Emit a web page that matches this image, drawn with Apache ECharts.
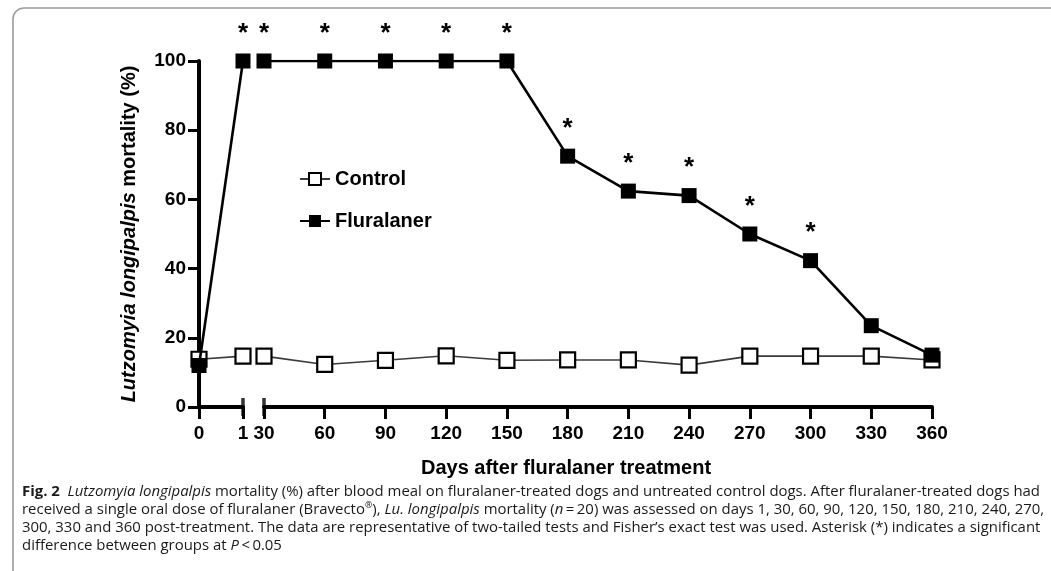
<!DOCTYPE html>
<html>
<head>
<meta charset="utf-8">
<script src="https://cdn.jsdelivr.net/npm/echarts@6/dist/echarts.min.js"></script>
<style>
  html, body { margin: 0; padding: 0; background: #fff; }
  #chart { width: 1051px; height: 571px; }
</style>
</head>
<body>
<div id="chart"></div>
<script>
// Sand fly mortality (%) after feeding on treated and control dogs
const days = [0, 1, 30, 60, 90, 120, 150, 180, 210, 240, 270, 300, 330, 360];
const controlMortality = [13.8, 14.7, 14.7, 12.3, 13.5, 14.8, 13.5, 13.6, 13.6, 12.1, 14.7, 14.7, 14.7, 13.6];
const fluralanerMortality = [12, 100, 100, 100, 100, 100, 100, 72.5, 62.4, 61.1, 50, 42.3, 23.5, 15];
// asterisk = significant difference between groups (P < 0.05)
const significant = [false, true, true, true, true, true, true, true, true, true, true, true, false, false];

// the day axis is broken between day 1 and day 30
const earlyRange = [0, 1];
const lateRange = [30, 360];
const earlyStep = 1;
const lateStep = 30;
const yRange = [0, 100];
const yStep = 20;

const seriesNames = ['Control', 'Fluralaner'];
const yTitle = 'Lutzomyia longipalpis';
const yTitleRest = ' mortality (%)';
const xTitle = 'Days after fluralaner treatment';

const captionLines = [
  [['b', 'Fig. 2'], ['', '  '], ['i', 'Lutzomyia longipalpis'], ['', ' mortality (%) after blood meal on fluralaner-treated dogs and untreated control dogs. After fluralaner-treated dogs had']],
  [['', 'received a single oral dose of fluralaner (Bravecto'], ['sup', '®'], ['', '), '], ['i', 'Lu. longipalpis'], ['', ' mortality ('], ['i', 'n'], ['', '\u2009=\u200920) was assessed on days 1, 30, 60, 90, 120, 150, 180, 210, 240, 270,']],
  [['', '300, 330 and 360 post-treatment. The data are representative of two-tailed tests and Fisher\u2019s exact test was used. Asterisk (*) indicates a significant']],
  [['', 'difference between groups at '], ['i', 'P'], ['', '\u2009<\u20090.05']]
];

const AXIS_FONT = 'Arial, "Liberation Sans", Helvetica, sans-serif';
const CAPTION_FONT = '"Open Sans", "Noto Sans", sans-serif';
const CAPTION_SIZE = 15;

function pairs(values, range) {
  const out = [];
  days.forEach((d, i) => {
    if (d >= range[0] && d <= range[1]) out.push([d, values[i]]);
  });
  return out;
}

function starLabel(p) {
  const i = days.indexOf(p.value[0]);
  return significant[i] ? '*' : '';
}

const chart = echarts.init(document.getElementById('chart'), null, { renderer: 'canvas' });

const axisLine = { show: true, onZero: false, lineStyle: { color: '#000', width: 4 } };
const axisTick = { show: true, inside: false, length: 12, lineStyle: { color: '#000', width: 3 } };
const tickLabel = { color: '#000', fontFamily: AXIS_FONT, fontWeight: 'bold', fontSize: 19 };

function xAxisFor(gridIndex, range, step) {
  return {
    type: 'value', gridIndex, min: range[0], max: range[1], interval: step,
    axisLine, axisTick,
    axisLabel: Object.assign({ margin: 17 }, tickLabel),
    splitLine: { show: false }
  };
}

const controlStyle = {
  type: 'line', name: seriesNames[0], symbol: 'rect', symbolSize: 15,
  lineStyle: { color: '#3a3a3a', width: 1.6 },
  itemStyle: { color: '#fff', borderColor: '#000', borderWidth: 2.2 },
  z: 2
};
const fluralanerStyle = {
  type: 'line', name: seriesNames[1], symbol: 'rect', symbolSize: 15,
  lineStyle: { color: '#000', width: 2.6 },
  itemStyle: { color: '#000', borderColor: '#000', borderWidth: 0 },
  label: {
    show: true, position: 'top', distance: 7, formatter: starLabel,
    color: '#000', fontFamily: AXIS_FONT, fontWeight: 'bold', fontSize: 26
  },
  z: 3
};

// end caps marking the axis break
const breakCap = {
  type: 'scatter', symbol: 'rect', symbolSize: [3.5, 18], silent: true, clip: false,
  itemStyle: { color: '#000' }, z: 4, legendHoverLink: false
};

// caption text: measure the first line so that it fills the frame width
const measureCtx = document.createElement('canvas').getContext('2d');
const capRich = {
  b: { fontFamily: CAPTION_FONT, fontSize: CAPTION_SIZE, fontWeight: 'bold', fill: '#1a1a1a', lineHeight: 18 },
  i: { fontFamily: CAPTION_FONT, fontSize: CAPTION_SIZE, fontStyle: 'italic', fill: '#1a1a1a', lineHeight: 18 },
  sup: { fontFamily: CAPTION_FONT, fontSize: 9, fill: '#1a1a1a', verticalAlign: 'top', lineHeight: 18 }
};
function fontOf(key) {
  if (key === 'b') return 'bold ' + CAPTION_SIZE + 'px ' + CAPTION_FONT;
  if (key === 'i') return 'italic ' + CAPTION_SIZE + 'px ' + CAPTION_FONT;
  if (key === 'sup') return '9px ' + CAPTION_FONT;
  return CAPTION_SIZE + 'px ' + CAPTION_FONT;
}
function lineWidth(parts) {
  return parts.reduce((w, [k, t]) => { measureCtx.font = fontOf(k); return w + measureCtx.measureText(t).width; }, 0);
}
function richString(parts) {
  return parts.map(([k, t]) => k ? '{' + k + '|' + t + '}' : t).join('');
}
const captionScale = 1018 / lineWidth(captionLines[0]);
const captionY = [492, 510, 528, 546];

const graphics = [
  {
    type: 'rect', silent: true, z: -10,
    shape: { x: 13, y: 8, width: 1100, height: 700, r: 11 },
    style: { fill: 'none', stroke: '#9c9c9c', lineWidth: 1.6 }
  },
  {
    type: 'text', x: 566, y: 468, silent: true,
    style: {
      text: xTitle, fill: '#000', fontFamily: AXIS_FONT, fontWeight: 'bold', fontSize: 20,
      align: 'center', verticalAlign: 'middle'
    }
  }
].concat(captionLines.map((parts, k) => ({
  type: 'text', x: 22, y: captionY[k], scaleX: captionScale, silent: true,
  style: {
    text: richString(parts), fill: '#1a1a1a', fontFamily: CAPTION_FONT, fontSize: CAPTION_SIZE,
    lineHeight: 18, align: 'left', verticalAlign: 'middle', rich: capRich
  }
})));

chart.setOption({
  animation: false,
  backgroundColor: '#fff',
  grid: [
    { left: 199, top: 61, width: 44, height: 346 },
    { left: 264, top: 61, width: 668, height: 346 }
  ],
  xAxis: [xAxisFor(0, earlyRange, earlyStep), xAxisFor(1, lateRange, lateStep)],
  yAxis: [
    {
      type: 'value', gridIndex: 0, min: yRange[0], max: yRange[1], interval: yStep,
      axisLine, axisTick: { show: true, inside: false, length: 11, lineStyle: { color: '#000', width: 3 } },
      axisLabel: Object.assign({ margin: 13 }, tickLabel),
      splitLine: { show: false },
      name: '{i|' + yTitle + '}' + yTitleRest,
      nameLocation: 'middle', nameRotate: 90, nameGap: 60,
      nameTextStyle: {
        color: '#000', fontFamily: AXIS_FONT, fontWeight: 'bold', fontSize: 20,
        rich: { i: { color: '#000', fontFamily: AXIS_FONT, fontWeight: 'bold', fontStyle: 'italic', fontSize: 20 } }
      }
    },
    { type: 'value', gridIndex: 1, min: yRange[0], max: yRange[1], interval: yStep, show: false }
  ],
  legend: {
    data: seriesNames, orient: 'vertical', left: 294, top: 164,
    itemWidth: 30, itemHeight: 15, itemGap: 22,
    textStyle: { color: '#000', fontFamily: AXIS_FONT, fontWeight: 'bold', fontSize: 20 }
  },
  series: [
    Object.assign({ xAxisIndex: 0, yAxisIndex: 0, data: pairs(controlMortality, earlyRange) }, controlStyle),
    Object.assign({ xAxisIndex: 1, yAxisIndex: 1, data: pairs(controlMortality, lateRange) }, controlStyle),
    Object.assign({ xAxisIndex: 0, yAxisIndex: 0, data: pairs(fluralanerMortality, earlyRange) }, fluralanerStyle),
    Object.assign({ xAxisIndex: 1, yAxisIndex: 1, data: pairs(fluralanerMortality, lateRange) }, fluralanerStyle),
    Object.assign({ xAxisIndex: 0, yAxisIndex: 0, data: [[earlyRange[1], yRange[0]]] }, breakCap),
    Object.assign({ xAxisIndex: 1, yAxisIndex: 1, data: [[lateRange[0], yRange[0]]] }, breakCap)
  ],
  graphic: graphics
});
</script>
</body>
</html>
